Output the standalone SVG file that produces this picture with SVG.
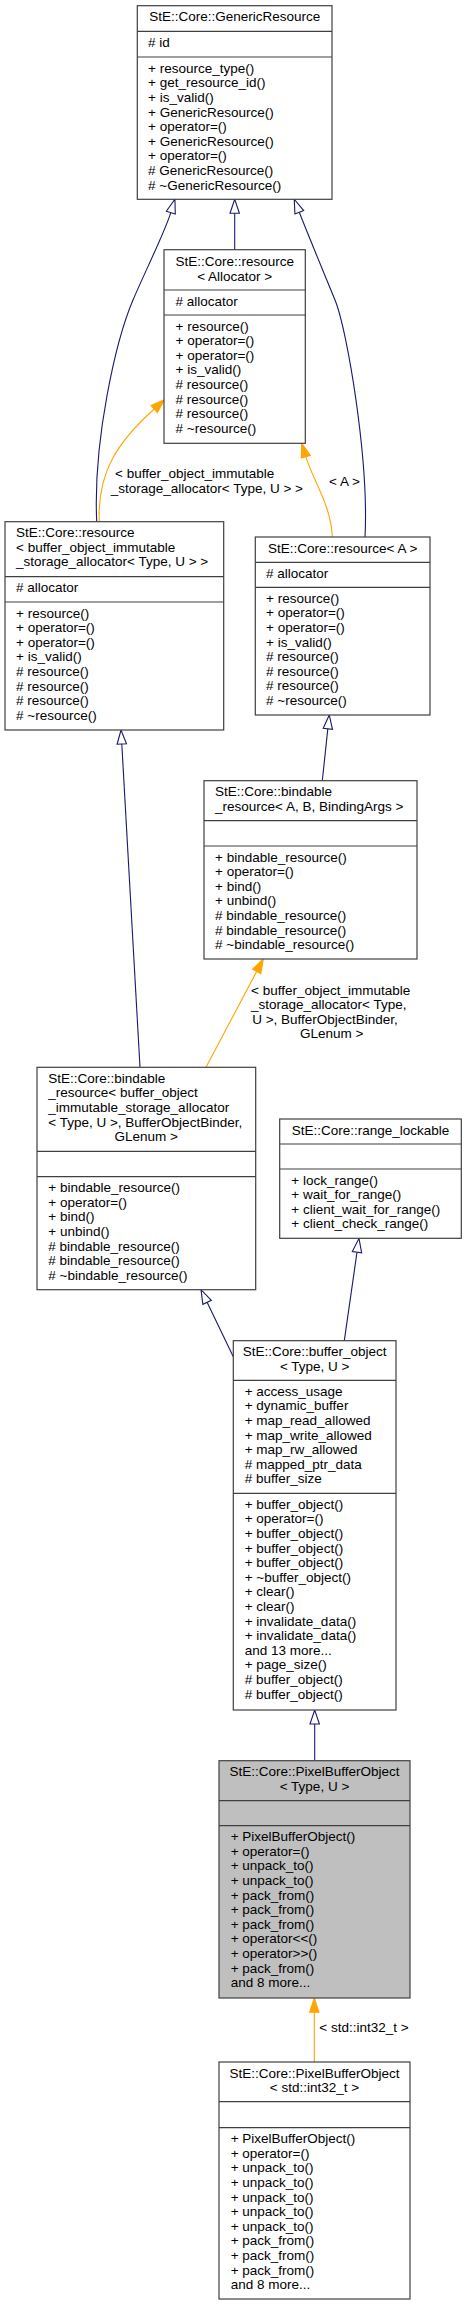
<svg xmlns="http://www.w3.org/2000/svg" width="467" height="2305" viewBox="0 0 467 2305">
<style>
text{font-family:"Liberation Sans",Arial,sans-serif;font-size:13.5px;fill:#000}
.box{fill:#fff;stroke:#404040;stroke-width:1.2}
.cur{fill:#bfbfbf;stroke:#404040;stroke-width:1.2}
.sep{stroke:#404040;stroke-width:1.2}
.c{text-anchor:middle}
.inh{fill:none;stroke:#191970;stroke-width:1.1;marker-end:url(#hollow)}
.tpl{fill:none;stroke:#ffa500;stroke-width:1.1;marker-end:url(#filled)}
</style>
<defs>
<marker id="hollow" markerUnits="userSpaceOnUse" orient="auto" refX="0" refY="0" markerWidth="16" markerHeight="12" style="overflow:visible"><path d="M0,-4.7 L14,0 L0,4.7 Z" fill="#fff" stroke="#191970" stroke-width="1.1"/></marker>
<marker id="filled" markerUnits="userSpaceOnUse" orient="auto" refX="0" refY="0" markerWidth="16" markerHeight="12" style="overflow:visible"><path d="M0,-4.7 L14,0 L0,4.7 Z" fill="#ffa500" stroke="#ffa500" stroke-width="1.1"/></marker>
</defs>
<rect width="467" height="2305" fill="#fff"/>

<g id="connectors">
<path class="inh" d="M234.7,249.7 V213.3"/>
<path class="inh" d="M96.7,521.7 C93,440 116,340 133,300 C145.8,270 164.8,232 170.8,212.6"/>
<path class="inh" d="M365,537 C369,460 347.3,330 335,300 C322.7,270 306.5,230.9 299.3,212.3"/>
<path class="tpl" d="M99.3,521.7 C97,470 120,440 154.2,409"/>
<text x="115" y="478.3">&lt; buffer_object_immutable</text>
<text x="110.7" y="492.7">_storage_allocator&lt; Type, U &gt; &gt;</text>
<path class="tpl" d="M332.3,536.7 C331,505 313,480.7 305.8,456.7"/>
<text x="329" y="485.7">&lt; A &gt;</text>
<path class="inh" d="M322.3,780.7 L327.8,728.9"/>
<path class="inh" d="M140,1067.3 L121.8,744"/>
<path class="tpl" d="M206,1067.3 L256.7,971.4"/>
<text class="c" x="330.7" y="995">&lt; buffer_object_immutable</text>
<text class="c" x="328.8" y="1009.3">_storage_allocator&lt; Type,</text>
<text class="c" x="325" y="1024.3">U &gt;, BufferObjectBinder,</text>
<text class="c" x="331.7" y="1038.3">GLenum &gt;</text>
<path class="inh" d="M233.3,1356.7 L207.1,1302.3"/>
<path class="inh" d="M344.3,1340.7 L357,1252.2"/>
<path class="inh" d="M314.7,1760.7 V1724"/>
<path class="tpl" d="M314.3,2062 V2012.3"/>
<text x="319.3" y="2032.3">&lt; std::int32_t &gt;</text>
</g>

<g id="node-GenericResource">
<rect class="box" x="137.3" y="5.7" width="194.7" height="193.6"/>
<line class="sep" x1="137.3" y1="31.3" x2="332" y2="31.3"/>
<line class="sep" x1="137.3" y1="57" x2="332" y2="57"/>
<text class="c" x="234.7" y="21.2">StE::Core::GenericResource</text>
<text x="148" y="46.8"># id</text>
<text x="148" y="72.7">+ resource_type()</text>
<text x="148" y="87.3">+ get_resource_id()</text>
<text x="148" y="101.9">+ is_valid()</text>
<text x="148" y="116.5">+ GenericResource()</text>
<text x="148" y="131.1">+ operator=()</text>
<text x="148" y="145.7">+ GenericResource()</text>
<text x="148" y="160.3">+ operator=()</text>
<text x="148" y="174.9"># GenericResource()</text>
<text x="148" y="189.5"># ~GenericResource()</text>
</g>

<g id="node-resource-Allocator">
<rect class="box" x="164" y="249.7" width="141.3" height="193.6"/>
<line class="sep" x1="164" y1="290" x2="305.3" y2="290"/>
<line class="sep" x1="164" y1="315" x2="305.3" y2="315"/>
<text class="c" x="234.7" y="266.3">StE::Core::resource</text>
<text class="c" x="234.7" y="280.9">&lt; Allocator &gt;</text>
<text x="175.5" y="305.5"># allocator</text>
<text x="175.5" y="330.5">+ resource()</text>
<text x="175.5" y="345.1">+ operator=()</text>
<text x="175.5" y="359.7">+ operator=()</text>
<text x="175.5" y="374.3">+ is_valid()</text>
<text x="175.5" y="388.9"># resource()</text>
<text x="175.5" y="403.5"># resource()</text>
<text x="175.5" y="418.1"># resource()</text>
<text x="175.5" y="432.7"># ~resource()</text>
</g>

<g id="node-resource-bufalloc">
<rect class="box" x="5" y="521.7" width="218.7" height="208.3"/>
<line class="sep" x1="5" y1="576.7" x2="223.7" y2="576.7"/>
<line class="sep" x1="5" y1="602" x2="223.7" y2="602"/>
<text x="16" y="537.2">StE::Core::resource</text>
<text x="16" y="551.8">&lt; buffer_object_immutable</text>
<text x="16" y="566.4">_storage_allocator&lt; Type, U &gt; &gt;</text>
<text x="16" y="592.2"># allocator</text>
<text x="16" y="617.5">+ resource()</text>
<text x="16" y="632.1">+ operator=()</text>
<text x="16" y="646.7">+ operator=()</text>
<text x="16" y="661.3">+ is_valid()</text>
<text x="16" y="675.9"># resource()</text>
<text x="16" y="690.5"># resource()</text>
<text x="16" y="705.1"># resource()</text>
<text x="16" y="719.7"># ~resource()</text>
</g>

<g id="node-resource-A">
<rect class="box" x="255.3" y="537" width="174.7" height="178"/>
<line class="sep" x1="255.3" y1="562.3" x2="430" y2="562.3"/>
<line class="sep" x1="255.3" y1="587.3" x2="430" y2="587.3"/>
<text class="c" x="342.7" y="552.5">StE::Core::resource&lt; A &gt;</text>
<text x="266" y="577.8"># allocator</text>
<text x="266" y="602.8">+ resource()</text>
<text x="266" y="617.4">+ operator=()</text>
<text x="266" y="632">+ operator=()</text>
<text x="266" y="646.6">+ is_valid()</text>
<text x="266" y="661.2"># resource()</text>
<text x="266" y="675.8"># resource()</text>
<text x="266" y="690.4"># resource()</text>
<text x="266" y="705"># ~resource()</text>
</g>

<g id="node-bindable-ABB">
<rect class="box" x="204" y="780.7" width="213" height="178.3"/>
<line class="sep" x1="204" y1="820.7" x2="417" y2="820.7"/>
<line class="sep" x1="204" y1="846" x2="417" y2="846"/>
<text x="215" y="796.2">StE::Core::bindable</text>
<text x="215" y="810.8">_resource&lt; A, B, BindingArgs &gt;</text>
<text x="215" y="861.5">+ bindable_resource()</text>
<text x="215" y="876.1">+ operator=()</text>
<text x="215" y="890.7">+ bind()</text>
<text x="215" y="905.3">+ unbind()</text>
<text x="215" y="919.9"># bindable_resource()</text>
<text x="215" y="934.5"># bindable_resource()</text>
<text x="215" y="949.1"># ~bindable_resource()</text>
</g>

<g id="node-bindable-buf">
<rect class="box" x="37" y="1067.3" width="218.7" height="222.4"/>
<line class="sep" x1="37" y1="1151.3" x2="255.7" y2="1151.3"/>
<line class="sep" x1="37" y1="1176.7" x2="255.7" y2="1176.7"/>
<text x="48.3" y="1082.8">StE::Core::bindable</text>
<text x="48.3" y="1097.4">_resource&lt; buffer_object</text>
<text x="48.3" y="1112">_immutable_storage_allocator</text>
<text x="48.3" y="1126.6">&lt; Type, U &gt;, BufferObjectBinder,</text>
<text class="c" x="146.3" y="1141.2">GLenum &gt;</text>
<text x="48.3" y="1192.2">+ bindable_resource()</text>
<text x="48.3" y="1206.8">+ operator=()</text>
<text x="48.3" y="1221.4">+ bind()</text>
<text x="48.3" y="1236">+ unbind()</text>
<text x="48.3" y="1250.6"># bindable_resource()</text>
<text x="48.3" y="1265.2"># bindable_resource()</text>
<text x="48.3" y="1279.8"># ~bindable_resource()</text>
</g>

<g id="node-range_lockable">
<rect class="box" x="279.7" y="1119" width="181.6" height="119.3"/>
<line class="sep" x1="279.7" y1="1144" x2="461.3" y2="1144"/>
<line class="sep" x1="279.7" y1="1169" x2="461.3" y2="1169"/>
<text class="c" x="370.5" y="1134.5">StE::Core::range_lockable</text>
<text x="291.3" y="1184.5">+ lock_range()</text>
<text x="291.3" y="1199.1">+ wait_for_range()</text>
<text x="291.3" y="1213.7">+ client_wait_for_range()</text>
<text x="291.3" y="1228.3">+ client_check_range()</text>
</g>

<g id="node-buffer_object">
<rect class="box" x="233.3" y="1340.7" width="162.7" height="369.3"/>
<line class="sep" x1="233.3" y1="1380.3" x2="396" y2="1380.3"/>
<line class="sep" x1="233.3" y1="1493.3" x2="396" y2="1493.3"/>
<text class="c" x="314.7" y="1356.2">StE::Core::buffer_object</text>
<text class="c" x="314.7" y="1370.8">&lt; Type, U &gt;</text>
<text x="244.7" y="1395.8">+ access_usage</text>
<text x="244.7" y="1410.4">+ dynamic_buffer</text>
<text x="244.7" y="1425">+ map_read_allowed</text>
<text x="244.7" y="1439.6">+ map_write_allowed</text>
<text x="244.7" y="1454.2">+ map_rw_allowed</text>
<text x="244.7" y="1468.8"># mapped_ptr_data</text>
<text x="244.7" y="1483.4"># buffer_size</text>
<text x="244.7" y="1508.8">+ buffer_object()</text>
<text x="244.7" y="1523.4">+ operator=()</text>
<text x="244.7" y="1538">+ buffer_object()</text>
<text x="244.7" y="1552.6">+ buffer_object()</text>
<text x="244.7" y="1567.2">+ buffer_object()</text>
<text x="244.7" y="1581.8">+ ~buffer_object()</text>
<text x="244.7" y="1596.4">+ clear()</text>
<text x="244.7" y="1611">+ clear()</text>
<text x="244.7" y="1625.6">+ invalidate_data()</text>
<text x="244.7" y="1640.2">+ invalidate_data()</text>
<text x="244.7" y="1654.8">and 13 more...</text>
<text x="244.7" y="1669.4">+ page_size()</text>
<text x="244.7" y="1684"># buffer_object()</text>
<text x="244.7" y="1698.6"># buffer_object()</text>
</g>

<g id="node-PixelBufferObject">
<rect class="cur" x="219" y="1760.7" width="191" height="237.3"/>
<line class="sep" x1="219" y1="1800.7" x2="410" y2="1800.7"/>
<line class="sep" x1="219" y1="1825.7" x2="410" y2="1825.7"/>
<text class="c" x="314.5" y="1776.2">StE::Core::PixelBufferObject</text>
<text class="c" x="314.5" y="1790.8">&lt; Type, U &gt;</text>
<text x="230.7" y="1841.2">+ PixelBufferObject()</text>
<text x="230.7" y="1855.8">+ operator=()</text>
<text x="230.7" y="1870.4">+ unpack_to()</text>
<text x="230.7" y="1885">+ unpack_to()</text>
<text x="230.7" y="1899.6">+ pack_from()</text>
<text x="230.7" y="1914.2">+ pack_from()</text>
<text x="230.7" y="1928.8">+ pack_from()</text>
<text x="230.7" y="1943.4">+ operator&lt;&lt;()</text>
<text x="230.7" y="1958">+ operator&gt;&gt;()</text>
<text x="230.7" y="1972.6">+ pack_from()</text>
<text x="230.7" y="1987.2">and 8 more...</text>
</g>

<g id="node-PixelBufferObject-int32">
<rect class="box" x="219" y="2062" width="191" height="237"/>
<line class="sep" x1="219" y1="2101.7" x2="410" y2="2101.7"/>
<line class="sep" x1="219" y1="2127.7" x2="410" y2="2127.7"/>
<text class="c" x="314.5" y="2077.5">StE::Core::PixelBufferObject</text>
<text class="c" x="314.5" y="2092.1">&lt; std::int32_t &gt;</text>
<text x="230.7" y="2143.2">+ PixelBufferObject()</text>
<text x="230.7" y="2157.8">+ operator=()</text>
<text x="230.7" y="2172.4">+ unpack_to()</text>
<text x="230.7" y="2187">+ unpack_to()</text>
<text x="230.7" y="2201.6">+ unpack_to()</text>
<text x="230.7" y="2216.2">+ unpack_to()</text>
<text x="230.7" y="2230.8">+ unpack_to()</text>
<text x="230.7" y="2245.4">+ pack_from()</text>
<text x="230.7" y="2260">+ pack_from()</text>
<text x="230.7" y="2274.6">+ pack_from()</text>
<text x="230.7" y="2289.2">and 8 more...</text>
</g>
</svg>
